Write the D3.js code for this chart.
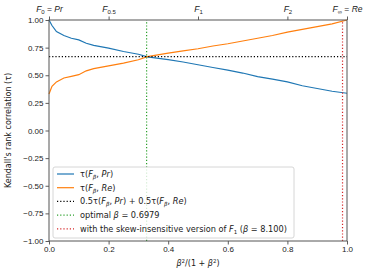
<!DOCTYPE html>
<html>
<head>
<meta charset="utf-8">
<script src="https://cdn.jsdelivr.net/npm/d3@7"></script>
<style>
  body { margin: 0; background: #fff; }
  svg { font-family: "DejaVu Sans", sans-serif; }
  .axis text { font-size: 8px; fill: #1a1a1a; }
</style>
</head>
<body>
<svg></svg>
<script>
const WIDTH = 369
const HEIGHT = 276
const margin = { top: 20, right: 22, bottom: 35, left: 49 }

// x position: beta^2/(1+beta^2)
const xs = [0, 0.01, 0.025, 0.05, 0.075, 0.1, 0.125, 0.15, 0.2, 0.25, 0.3, 0.33, 0.4, 0.45, 0.5, 0.55, 0.6, 0.65, 0.7, 0.75, 0.8, 0.85, 0.9, 0.95, 1.0]
const tauPr = [1.0, 0.95, 0.895, 0.86, 0.835, 0.82, 0.79, 0.77, 0.745, 0.715, 0.69, 0.667, 0.642, 0.62, 0.595, 0.57, 0.547, 0.52, 0.487, 0.465, 0.44, 0.405, 0.38, 0.355, 0.337]
const tauRe = [0.33, 0.40, 0.44, 0.475, 0.49, 0.505, 0.54, 0.56, 0.585, 0.61, 0.64, 0.668, 0.70, 0.72, 0.74, 0.765, 0.785, 0.81, 0.835, 0.86, 0.89, 0.915, 0.94, 0.965, 1.0]
const avgX = [0, 1]
const avgTau = [0.668, 0.668]
const optimalBeta = 0.6979
const skewBeta = 8.100

const xTicks = [0, 0.2, 0.4, 0.6, 0.8, 1.0]
const yTicks = [-1, -0.75, -0.5, -0.25, 0, 0.25, 0.5, 0.75, 1.0]
const topBetas = [0, 0.5, 1, 2, Infinity]
const topSubs = ['0', '0.5', '1', '2', '∞']
const topSuffix = ['Pr', '', '', '', 'Re']

const svg = d3.select('svg').attr('width', WIDTH).attr('height', HEIGHT)
const w = WIDTH - margin.left - margin.right
const h = HEIGHT - margin.top - margin.bottom
const g = svg.append('g').attr('transform', `translate(${margin.left},${margin.top})`)

const x = d3.scaleLinear().domain([0, 1]).range([0, w])
const y = d3.scaleLinear().domain([-1, 1]).range([h, 0])
const toX = b => b === Infinity ? 1 : b * b / (1 + b * b)

const line = d3.line().x(d => x(d[0])).y(d => y(d[1]))

g.append('path')
  .datum(d3.zip(xs, tauPr))
  .attr('d', line).attr('fill', 'none').attr('stroke', '#1f77b4').attr('stroke-width', 1.2)
g.append('path')
  .datum(d3.zip(xs, tauRe))
  .attr('d', line).attr('fill', 'none').attr('stroke', '#ff7f0e').attr('stroke-width', 1.2)
g.append('path')
  .datum(d3.zip(avgX, avgTau))
  .attr('d', line).attr('fill', 'none').attr('stroke', '#000').attr('stroke-width', 1.2)
  .attr('stroke-dasharray', '1.2,2')
const vlines = [[toX(optimalBeta), '#2ca02c'], [toX(skewBeta), '#d62728']]
vlines.forEach(([v, c]) => {
  g.append('line')
    .attr('x1', x(v)).attr('x2', x(v)).attr('y1', y(-1)).attr('y2', y(1))
    .attr('stroke', c).attr('stroke-width', 1.2).attr('stroke-dasharray', '1.2,2')
})

// axes
const axBottom = g.append('g').attr('class', 'axis').attr('transform', `translate(0,${h})`)
  .call(d3.axisBottom(x).tickValues(xTicks).tickFormat(d3.format('.1f')).tickSize(3.5).tickPadding(2))
const axLeft = g.append('g').attr('class', 'axis')
  .call(d3.axisLeft(y).tickValues(yTicks).tickFormat(d => d3.format('.2f')(d).replace('-', '−')).tickSize(3.5).tickPadding(2))
const axTop = g.append('g').attr('class', 'axis')
  .call(d3.axisTop(x).tickValues(topBetas.map(toX)).tickFormat('').tickSize(3.5))
;[axBottom, axLeft, axTop].forEach(a => {
  a.select('.domain').remove()
  a.selectAll('line').attr('stroke', '#333').attr('stroke-width', 0.8)
})
axTop.selectAll('.tick').each(function (d, i) {
  const t = d3.select(this).append('text').attr('y', -8).attr('text-anchor', 'middle')
    .style('font-size', '8.5px').attr('fill', '#1a1a1a')
  t.append('tspan').attr('font-style', 'italic').text('F')
  t.append('tspan').attr('font-size', '6px').attr('dy', 2).text(topSubs[i])
  if (topSuffix[i]) {
    t.append('tspan').attr('dy', -2).text(' = ')
    t.append('tspan').attr('font-style', 'italic').text(topSuffix[i])
  }
})

g.append('rect').attr('width', w).attr('height', h)
  .attr('fill', 'none').attr('stroke', '#555').attr('stroke-width', 1)

// labels
const xl = svg.append('text').attr('x', margin.left + w / 2).attr('y', 266)
  .attr('text-anchor', 'middle').style('font-size', '8px').attr('fill', '#1a1a1a')
xl.append('tspan').attr('font-style', 'italic').text('β')
xl.append('tspan').attr('font-size', '5.5px').attr('dy', -3).text('2')
xl.append('tspan').attr('dy', 3).text('/(1 + ')
xl.append('tspan').attr('font-style', 'italic').text('β')
xl.append('tspan').attr('font-size', '5.5px').attr('dy', -3).text('2')
xl.append('tspan').attr('dy', 3).text(')')

svg.append('text').attr('transform', `translate(11,${margin.top + h / 2}) rotate(-90)`)
  .attr('text-anchor', 'middle').style('font-size', '8px').attr('fill', '#1a1a1a')
  .text("Kendall's rank correlation (τ)")

// legend
const lg = g.append('g').attr('transform', `translate(${x(0) + 4},${y(-1) - 74})`)
lg.append('rect').attr('width', 241).attr('height', 71).attr('rx', 2)
  .attr('fill', 'rgba(255,255,255,0.8)').attr('stroke', '#ccc').attr('stroke-width', 0.8)
const entries = [
  { c: '#1f77b4', dash: null, parts: [['τ(', 0], ['F', 1], ['β', 2], [', ', 0], ['Pr', 1], [')', 0]] },
  { c: '#ff7f0e', dash: null, parts: [['τ(', 0], ['F', 1], ['β', 2], [', ', 0], ['Re', 1], [')', 0]] },
  { c: '#000', dash: '1.2,2', parts: [['0.5τ(', 0], ['F', 1], ['β', 2], [', ', 0], ['Pr', 1], [') + 0.5τ(', 0], ['F', 1], ['β', 2], [', ', 0], ['Re', 1], [')', 0]] },
  { c: '#2ca02c', dash: '1.2,2', parts: [['optimal ', 0], ['β', 1], [' = ' + optimalBeta.toFixed(4), 0]] },
  { c: '#d62728', dash: '1.2,2', parts: [['with the skew-insensitive version of ', 0], ['F', 1], ['1', 3], [' (', 0], ['β', 1], [' = ' + skewBeta.toFixed(3) + ')', 0]] }
]
entries.forEach((e, i) => {
  const yy = 7 + i * 13.7
  lg.append('line').attr('x1', 4).attr('x2', 21).attr('y1', yy).attr('y2', yy)
    .attr('stroke', e.c).attr('stroke-width', 1.2).attr('stroke-dasharray', e.dash)
  const t = lg.append('text').attr('x', 27).attr('y', yy + 3).style('font-size', '8.2px').attr('fill', '#1a1a1a')
  let shifted = false
  e.parts.forEach(([s, k]) => {
    const ts = t.append('tspan').text(s)
    if (k === 1) ts.attr('font-style', 'italic')
    if (k === 2 || k === 3) {
      ts.attr('font-size', '5.5px').attr('dy', 2)
      if (k === 2) ts.attr('font-style', 'italic')
      shifted = true
    } else if (shifted) {
      ts.attr('dy', -2)
      shifted = false
    }
  })
})
</script>
</body>
</html>
